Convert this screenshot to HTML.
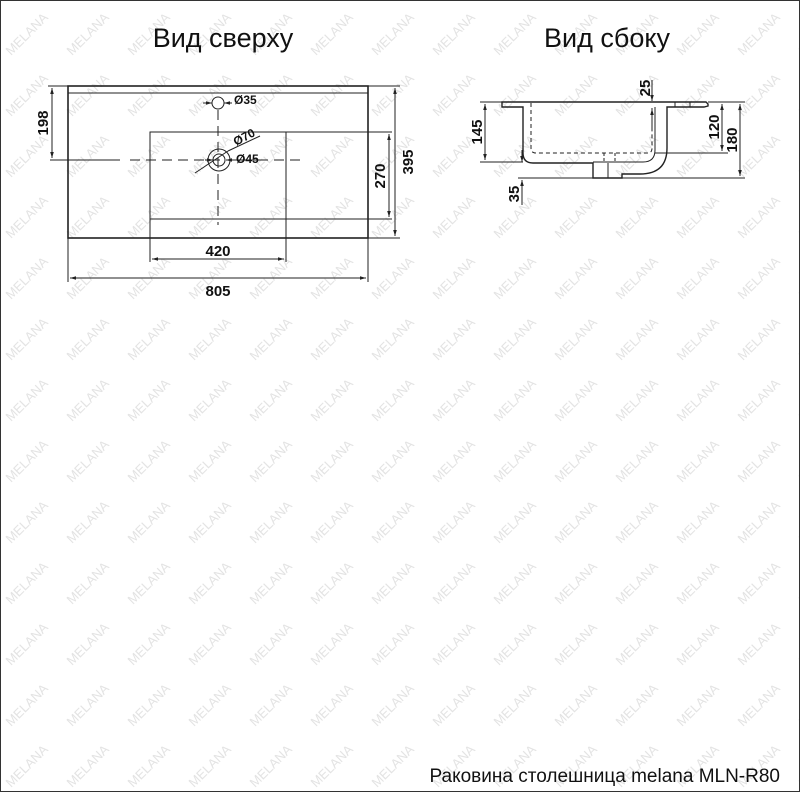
<!DOCTYPE html>
<html><head><meta charset="utf-8"><style>
html,body{margin:0;padding:0;background:#fff}
svg{display:block}
text{font-family:"Liberation Sans",sans-serif}
</style></head><body>
<svg width="800" height="792" viewBox="0 0 800 792" xmlns="http://www.w3.org/2000/svg">
<defs>
<pattern id="wm" x="5" y="0" width="61" height="61" patternUnits="userSpaceOnUse">
<text transform="translate(6,56) rotate(-45)" font-size="13" fill="#e3e3e3">MELANA</text>
</pattern>
<marker id="a" viewBox="0 0 10 10" refX="10" refY="5" markerWidth="6" markerHeight="6" orient="auto-start-reverse"><path d="M0,2 L10,5 L0,8z" fill="#222"/></marker>
</defs>
<rect width="800" height="792" fill="#fff"/>
<rect width="800" height="792" fill="url(#wm)"/>
<rect x="0.5" y="0.5" width="799" height="791" fill="none" stroke="#333" stroke-width="1"/>

<text x="223" y="47" font-size="27" text-anchor="middle" fill="#111">Вид сверху</text>
<text x="607" y="47" font-size="27" text-anchor="middle" fill="#111">Вид сбоку</text>
<text x="780" y="782" font-size="19" text-anchor="end" fill="#111">Раковина столешница melana MLN-R80</text>

<g stroke="#222" fill="none" stroke-width="1">
<rect x="68" y="86" width="300" height="152" stroke-width="1.6"/>
<line x1="68" y1="93" x2="368" y2="93"/>
<rect x="150" y="132" width="136" height="87"/>
<line x1="286" y1="132" x2="392" y2="132"/>
<line x1="150" y1="219" x2="392" y2="219"/>
<circle cx="218" cy="103" r="6"/>
<circle cx="219" cy="160" r="11"/>
<circle cx="219" cy="160" r="6"/>
<line x1="50" y1="160" x2="120" y2="160"/>
<line x1="130" y1="160" x2="305" y2="160" stroke-dasharray="10,6"/>
<line x1="218" y1="110" x2="218" y2="225" stroke-dasharray="10,6"/>
<line x1="52" y1="88" x2="52" y2="158" marker-start="url(#a)" marker-end="url(#a)"/>
<line x1="48" y1="86" x2="68" y2="86"/>
<line x1="389" y1="134" x2="389" y2="217" marker-start="url(#a)" marker-end="url(#a)"/>
<line x1="368" y1="86" x2="400" y2="86"/>
<line x1="368" y1="238" x2="400" y2="238"/>
<line x1="395" y1="88" x2="395" y2="236" marker-start="url(#a)" marker-end="url(#a)"/>
<line x1="150" y1="219" x2="150" y2="262"/>
<line x1="286" y1="219" x2="286" y2="262"/>
<line x1="152" y1="259" x2="284" y2="259" marker-start="url(#a)" marker-end="url(#a)"/>
<line x1="68" y1="238" x2="68" y2="282"/>
<line x1="368" y1="238" x2="368" y2="282"/>
<line x1="70" y1="278" x2="366" y2="278" marker-start="url(#a)" marker-end="url(#a)"/>
<line x1="203" y1="103" x2="212" y2="103" marker-end="url(#a)"/>
<line x1="232" y1="103" x2="224" y2="103" marker-end="url(#a)"/>
<line x1="205" y1="160" x2="213" y2="160" marker-end="url(#a)"/>
<line x1="232" y1="160" x2="226" y2="160" marker-end="url(#a)"/>
<line x1="234" y1="160" x2="262" y2="160"/>
<line x1="195" y1="173" x2="228" y2="151"/>
<line x1="228" y1="151" x2="260" y2="136"/>

<path d="M502,102 L706,102 L708,104 L708,106 L704,107 L667,107 L667,148 Q667,174 640,174 L622,174 L622,178 L593,178 L593,163 L533,163 Q523,163 523,153 L523,107 L502,107 Z" stroke-width="1.4"/>
<path d="M655,107 L655,150 Q655,162 643,162 L593,162"/>
<path d="M531,103 L531,148 Q531,153 536,153 L648,153 Q652,153 652,148 L652,108" stroke-dasharray="4,3"/>
<line x1="608" y1="163" x2="608" y2="178"/>
<line x1="604" y1="153" x2="604" y2="163" stroke-dasharray="3,2"/>
<line x1="615" y1="153" x2="615" y2="163" stroke-dasharray="3,2"/>
<line x1="675" y1="102" x2="675" y2="107"/>
<line x1="690" y1="102" x2="690" y2="107"/>
<line x1="480" y1="102" x2="502" y2="102"/>
<line x1="480" y1="162" x2="523" y2="162"/>
<line x1="485" y1="104" x2="485" y2="160" marker-start="url(#a)" marker-end="url(#a)"/>
<line x1="518" y1="178" x2="745" y2="178"/>
<line x1="522" y1="150" x2="522" y2="162" marker-end="url(#a)"/>
<line x1="522" y1="205" x2="522" y2="180" marker-end="url(#a)"/>
<line x1="708" y1="102" x2="745" y2="102"/>
<line x1="655" y1="153" x2="728" y2="153"/>
<line x1="722" y1="104" x2="722" y2="151" marker-start="url(#a)" marker-end="url(#a)"/>
<line x1="740" y1="104" x2="740" y2="176" marker-start="url(#a)" marker-end="url(#a)"/>
<line x1="652" y1="80" x2="652" y2="101" marker-end="url(#a)"/>
<line x1="652" y1="128" x2="652" y2="109" marker-end="url(#a)"/>
</g>

<g fill="#111" font-size="15" font-weight="bold">
<text x="234" y="104" font-size="12">Ø35</text>
<text x="236" y="163" font-size="12">Ø45</text>
<text transform="translate(236,146) rotate(-28)" font-size="12">Ø70</text>
<text x="218" y="256" text-anchor="middle">420</text>
<text x="218" y="296" text-anchor="middle">805</text>
<text transform="translate(48,123) rotate(-90)" text-anchor="middle">198</text>
<text transform="translate(385,176) rotate(-90)" text-anchor="middle">270</text>
<text transform="translate(413,162) rotate(-90)" text-anchor="middle">395</text>
<text transform="translate(482,132) rotate(-90)" text-anchor="middle">145</text>
<text transform="translate(519,194) rotate(-90)" text-anchor="middle">35</text>
<text transform="translate(719,127) rotate(-90)" text-anchor="middle">120</text>
<text transform="translate(737,140) rotate(-90)" text-anchor="middle">180</text>
<text transform="translate(650,88) rotate(-90)" text-anchor="middle">25</text>
</g>
</svg>
</body></html>
